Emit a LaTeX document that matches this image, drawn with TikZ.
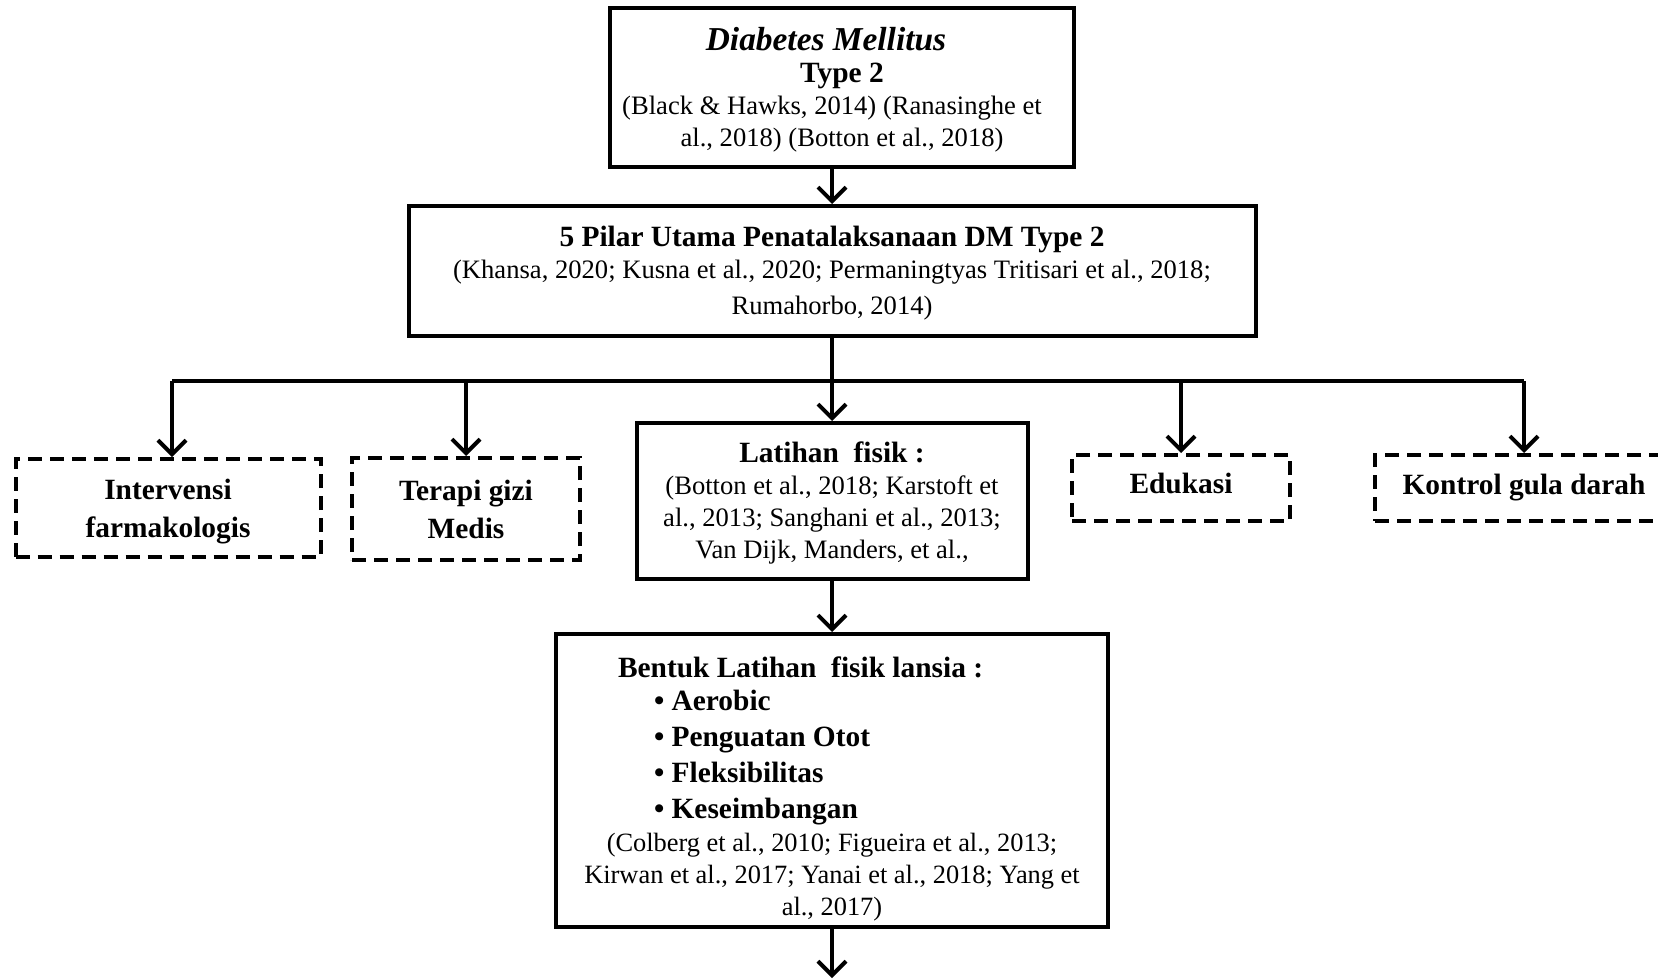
\documentclass[tikz,border=0pt]{standalone}
\usepackage{fontspec}
\setmainfont{Liberation Serif}
\usetikzlibrary{arrows.meta,calc,positioning}

\newcommand{\bigbf}{\bfseries\fontsize{14.7}{16}\selectfont}

\begin{document}
\begin{tikzpicture}[x=1pt,y=-1pt,align=center,font=\fontsize{13.3}{16}\selectfont]
\tikzstyle{solidbox}=[draw,line width=2pt,inner sep=0pt]
\tikzstyle{dashbox}=[draw,line width=2pt,dash pattern=on 7pt off 4pt,inner sep=0pt,font=\fontsize{14.7}{19}\selectfont\bfseries]
\tikzstyle{link}=[line width=2pt,-{Straight Barb[length=7pt,width=14pt]}]

\useasboundingbox (0,0) rectangle (829,489.5);

\node[solidbox,minimum width=232pt,minimum height=79.5pt] (dm) at (421,43.75)
  {\rule{0pt}{14pt}{\bfseries\itshape\fontsize{16.7}{16}\selectfont Diabetes Mellitus}\makebox[16pt]{}\\{\bigbf Type 2}\\(Black \& Hawks, 2014) (Ranasinghe et\makebox[10pt]{}\\al., 2018) (Botton et al., 2018)};
\node[solidbox,minimum width=423.5pt,minimum height=65pt] (pilar) at (416,135.5)
  {\rule{0pt}{12pt}{\bigbf 5 Pilar Utama Penatalaksanaan DM Type 2}\\(Khansa, 2020; Kusna et al., 2020; Permaningtyas Tritisari et al., 2018;\\[2pt]Rumahorbo, 2014)};

\coordinate (bar) at (0,190.5);

\node[dashbox,minimum width=152.5pt,minimum height=49pt] (farma) at (84,254) {\rule{0pt}{13.5pt}Intervensi\\farmakologis};
\node[dashbox,minimum width=114pt,minimum height=51pt] (gizi) at (233,254.5) {Terapi gizi\\Medis};
\node[solidbox,minimum width=195.5pt,minimum height=78pt] (latihan) at (416,250.5)
  {\rule{0pt}{12pt}{\bigbf Latihan\ \ fisik :}\\(Botton et al., 2018; Karstoft et\\al., 2013; Sanghani et al., 2013;\\Van Dijk, Manders, et al.,};
\node[dashbox,minimum width=109pt,minimum height=33pt] (edukasi) at (590.5,244) {Edukasi\rule[-5pt]{0pt}{5pt}};
\node[dashbox,minimum width=149pt,minimum height=33pt] (kontrol) at (762,244) {Kontrol gula darah};

\node[solidbox,minimum width=276pt,minimum height=146.5pt] (bentuk) at (416,390.25)
  {\makebox[276pt][l]{\rule{0pt}{19pt}\hspace{31pt}\bigbf Bentuk Latihan\ \ fisik lansia :}\\[0.5pt]
   \makebox[276pt][l]{\hspace{49pt}\bigbf\textbullet\ Aerobic}\\[2pt]
   \makebox[276pt][l]{\hspace{49pt}\bigbf\textbullet\ Penguatan Otot}\\[2pt]
   \makebox[276pt][l]{\hspace{49pt}\bigbf\textbullet\ Fleksibilitas}\\[2pt]
   \makebox[276pt][l]{\hspace{49pt}\bigbf\textbullet\ Keseimbangan}\\[0.5pt]
   {\fontsize{13.2}{16}\selectfont (Colberg et al., 2010; Figueira et al., 2013;}\\
   {\fontsize{13.2}{16}\selectfont Kirwan et al., 2017; Yanai et al., 2018; Yang et}\\
   {\fontsize{13.2}{16}\selectfont al., 2017)}};

\coordinate (end) at (416,489);

\draw[link] (dm.south -| pilar.north) -- (pilar.north);
\draw[link] (pilar.south) -- (latihan.north);
\draw[line width=2pt] ([xshift=2pt]farma.north |- bar) -- (kontrol.north |- bar);
\draw[link] ([xshift=2pt]farma.north |- bar) -- ([xshift=2pt]farma.north);
\draw[link] (gizi.north |- bar) -- (gizi.north);
\draw[link] (edukasi.north |- bar) -- (edukasi.north);
\draw[link] (kontrol.north |- bar) -- (kontrol.north);
\draw[link] (latihan.south) -- (bentuk.north);
\draw[link] (bentuk.south) -- (end);
\end{tikzpicture}
\end{document}
